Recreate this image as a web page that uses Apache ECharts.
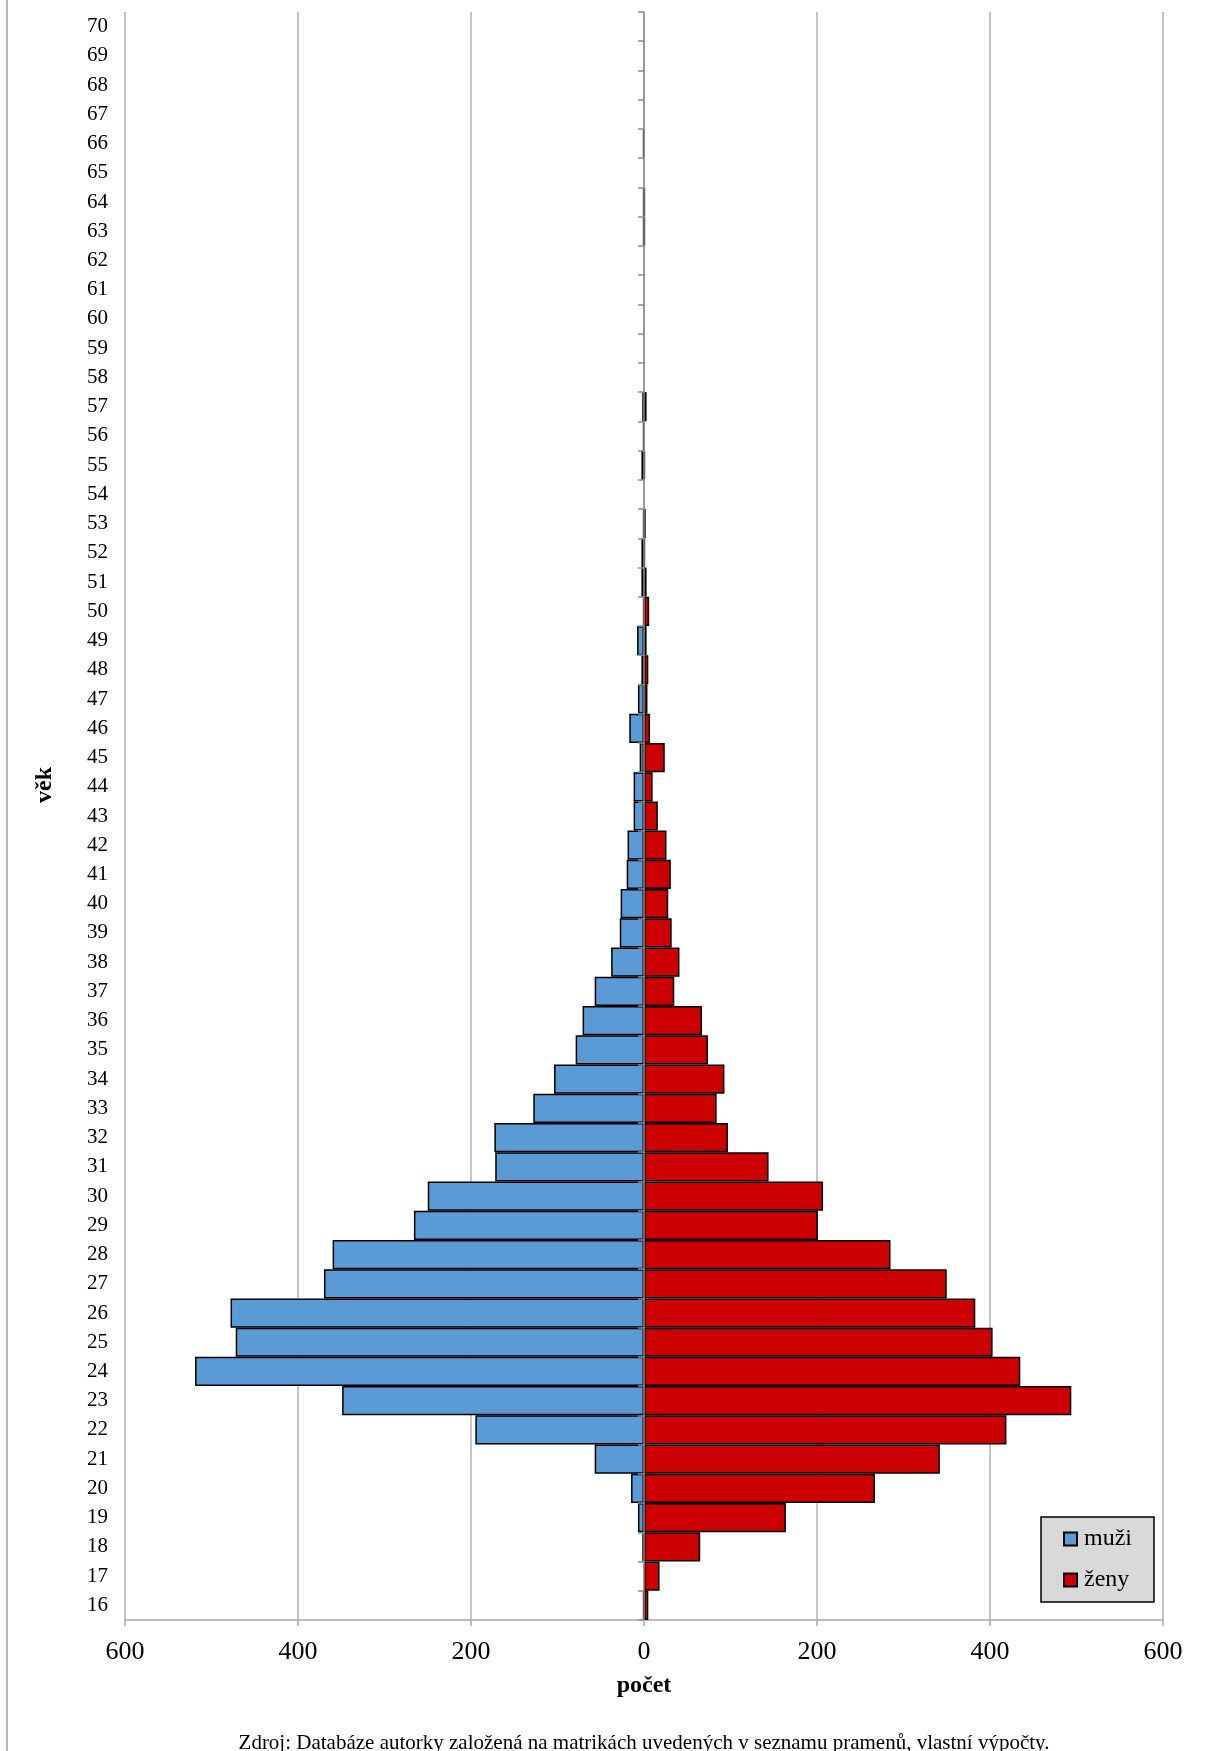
<!DOCTYPE html>
<html>
<head>
<meta charset="utf-8">
<title>věk / počet</title>
<script src="https://cdn.jsdelivr.net/npm/echarts@6/dist/echarts.min.js"></script>
<style>
  html, body { margin: 0; padding: 0; background: #fff; }
  #chart { width: 1208px; height: 1751px; }
</style>
</head>
<body>
<div id="chart"></div>
<script>
// věk 16 .. 70
const ages = [];
for (let a = 16; a <= 70; a++) ages.push(String(a));

// muži (počet), od 16 let nahoru
const muzi = [
  1, 0, 2, 7, 15, 57, 195, 349, 519, 472,
  478, 370, 360, 266, 250, 172, 173, 128, 104, 79,
  71, 57, 38, 28, 27, 20, 19, 12, 12, 5,
  17, 7, 3, 8, 1, 3, 3, 1, 0, 3,
  1, 2, 0, 0, 0, 0, 0, 1, 1, 0,
  1, 0, 0, 0, 0
];
// ženy (počet)
const zeny = [
  5, 18, 65, 164, 267, 342, 419, 494, 435, 403,
  383, 350, 285, 201, 207, 144, 97, 84, 93, 74,
  67, 35, 41, 32, 28, 31, 26, 16, 10, 24,
  7, 4, 5, 3, 6, 3, 1, 2, 0, 1,
  0, 3, 0, 0, 0, 0, 0, 1, 1, 0,
  0, 0, 0, 0, 0
];
const xTickLabels = ['600', '400', '200', '0', '200', '400', '600'];

const serif = '"Liberation Serif", "Times New Roman", serif';
const gridColor = '#b0b0b0';

const chart = echarts.init(document.getElementById('chart'), null, { renderer: 'canvas' });

const option = {
  animation: false,
  backgroundColor: '#fff',
  grid: {
    left: 125,
    right: 45,
    top: 12,
    bottom: 131
  },
  legend: {
    orient: 'vertical',
    left: 1041,
    top: 1517,
    backgroundColor: '#d9d9d9',
    borderColor: '#000',
    borderWidth: 1.5,
    padding: [10, 22, 10, 22],
    itemGap: 17,
    itemWidth: 13,
    itemHeight: 13,
    icon: 'rect',
    textStyle: { fontFamily: serif, fontSize: 24, color: '#000', padding: [0, 0, 0, 2] },
    data: ['muži', 'ženy']
  },
  xAxis: {
    type: 'value',
    min: -600,
    max: 600,
    interval: 200,
    axisLine: { show: true, onZero: false, lineStyle: { color: '#a6a6a6', width: 1.5 } },
    axisTick: { show: true, length: 6, lineStyle: { color: '#a6a6a6', width: 1.5 } },
    splitLine: { show: true, lineStyle: { color: gridColor, width: 1.5 } },
    axisLabel: {
      margin: 19,
      fontFamily: serif,
      fontSize: 26,
      color: '#000',
      formatter: function (v) {
        return xTickLabels[Math.round((v + 600) / 200)];
      }
    }
  },
  yAxis: [
    {
      // popisky věku vlevo
      type: 'category',
      data: ages,
      axisLine: { show: false, onZero: false },
      axisTick: { show: false },
      splitLine: { show: false },
      axisLabel: { margin: 17, fontFamily: serif, fontSize: 21, color: '#000' }
    },
    {
      // osa v nule
      type: 'category',
      data: ages,
      position: 'left',
      z: 5,
      axisLine: { show: true, onZero: true, onZeroAxisIndex: 0, lineStyle: { color: '#8c8c8c', width: 1.5 } },
      axisTick: { show: true, length: 6, lineStyle: { color: '#8c8c8c', width: 1.5 } },
      axisLabel: { show: false },
      splitLine: { show: false }
    }
  ],
  series: [
    {
      name: 'muži',
      type: 'bar',
      stack: 'pyramida',
      barCategoryGap: 0,
      data: muzi.map(v => (v === 0 ? null : -v)),
      itemStyle: { color: '#5b9bd5', borderColor: '#000', borderWidth: 1.5 }
    },
    {
      name: 'ženy',
      type: 'bar',
      stack: 'pyramida',
      barCategoryGap: 0,
      data: zeny.map(v => (v === 0 ? null : v)),
      itemStyle: { color: '#cc0000', borderColor: '#000', borderWidth: 1.5 }
    }
  ],
  graphic: [
    {
      type: 'line',
      shape: { x1: 7, y1: 0, x2: 7, y2: 1751 },
      style: { stroke: '#a0a0a0', lineWidth: 1.5 }
    },
    {
      type: 'text',
      x: 45,
      y: 785,
      rotation: Math.PI / 2,
      style: {
        text: 'věk',
        font: 'bold 24px ' + serif,
        fill: '#000',
        align: 'center',
        verticalAlign: 'middle'
      }
    },
    {
      type: 'text',
      x: 644,
      y: 1686,
      style: {
        text: 'počet',
        font: 'bold 24px ' + serif,
        fill: '#000',
        align: 'center',
        verticalAlign: 'middle'
      }
    },
    {
      type: 'text',
      x: 644,
      y: 1743,
      style: {
        text: 'Zdroj: Databáze autorky založená na matrikách uvedených v seznamu pramenů, vlastní výpočty.',
        font: '21px ' + serif,
        fill: '#000',
        align: 'center',
        verticalAlign: 'middle'
      }
    }
  ]
};

chart.setOption(option);
</script>
</body>
</html>
